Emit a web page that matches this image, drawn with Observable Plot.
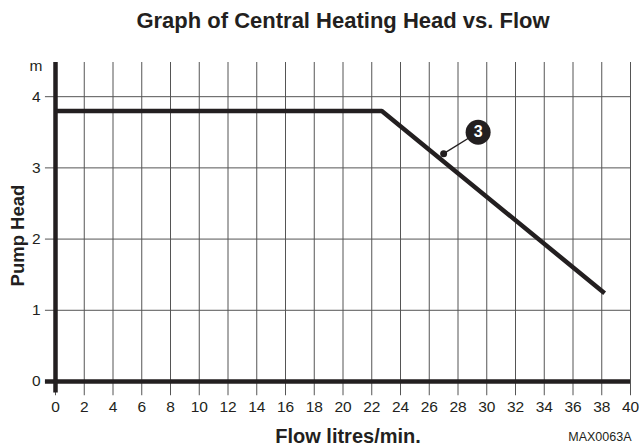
<!DOCTYPE html>
<html><head><meta charset="utf-8">
<script src="https://cdn.jsdelivr.net/npm/d3@7"></script>
<script src="https://cdn.jsdelivr.net/npm/@observablehq/plot@0.6"></script>
<style>body{margin:0;background:#fff;} svg{display:block;}</style>
</head><body><div id="chart"></div>
<script>
const xTicks = [0,2,4,6,8,10,12,14,16,18,20,22,24,26,28,30,32,34,36,38,40];
const yTicks = [0,1,2,3,4];
const flow = [0, 22.7, 38.2];
const head = [3.8, 3.8, 1.24];
const curve = flow.map((f,i)=>({flow:f, head:head[i]}));
const calloutPoint = [{flow:27.0, head:3.2}];
const calloutLabel = [{flow:29.4, head:3.5, label:"3"}];
const title = "Graph of Central Heating Head vs. Flow";
const xLabel = "Flow litres/min.";
const yLabel = "Pump Head";
const yUnit = "m";
const code = "MAX0063A";

const ink = "#231f20";
const font = "Arial, 'Liberation Sans', Helvetica, sans-serif";
const chart = Plot.plot({
  width: 639, height: 445,
  marginLeft: 55, marginRight: 9, marginTop: 62, marginBottom: 64,
  style: {fontFamily: font, fontSize: "15.5px", background: "#fff", color: ink},
  x: {domain: [0, 40]},
  y: {domain: [0, 4.48]},
  marks: [
    Plot.ruleX(xTicks, {x: d=>d, y1: -0.2, y2: 4.48, stroke: "#555", strokeWidth: 1}),
    Plot.ruleY(yTicks, {y: d=>d, x1: -0.7, x2: 40, stroke: "#555", strokeWidth: 1}),
    Plot.axisX({ticks: xTicks, tickSize: 0, tickPadding: 19, fontSize: 15.5, label: null, fill: ink, tickFormat: d=>String(d)}),
    Plot.axisY({ticks: yTicks, tickSize: 0, tickPadding: 15, fontSize: 15.5, label: null, fill: ink, tickFormat: d=>String(d)}),
    Plot.ruleY([0], {x1: -0.7, x2: 40, stroke: ink, strokeWidth: 4.5}),
    Plot.ruleX([0], {y1: -0.16, y2: 4.48, stroke: ink, strokeWidth: 4.5}),
    Plot.line(curve, {x: "flow", y: "head", stroke: ink, strokeWidth: 4.5, strokeLinejoin: "miter", strokeLinecap: "butt"}),
    Plot.link([{x1: calloutPoint[0].flow, y1: calloutPoint[0].head, x2: calloutLabel[0].flow, y2: calloutLabel[0].head}], {x1:"x1", y1:"y1", x2:"x2", y2:"y2", stroke: ink, strokeWidth: 1.3}),
    Plot.dot(calloutPoint, {x: "flow", y: "head", r: 3.5, fill: ink, stroke: "none"}),
    Plot.dot(calloutLabel, {x: "flow", y: "head", r: 12.5, fill: ink, stroke: "none"}),
    Plot.text(calloutLabel, {x: "flow", y: "head", text: "label", fill: "#fff", fontSize: 16, fontWeight: "bold"}),
    Plot.text([yUnit], {frameAnchor: "top-left", dx: -19.5, dy: -3, fontSize: 15.5, textAnchor: "middle", fill: ink}),
    Plot.text([title], {frameAnchor: "top", dy: -50, fontSize: 22, fontWeight: "bold", fill: ink, letterSpacing: 1}),
    Plot.text([xLabel], {frameAnchor: "bottom", dx: 5, dy: 61, fontSize: 20, fontWeight: "bold", fill: ink, letterSpacing: 0.3}),
    Plot.text([code], {frameAnchor: "bottom-right", dy: 59, dx: 1, textAnchor: "end", fontSize: 12.5, fill: ink}),
    Plot.text([{y: 2.05, t: yLabel}], {y: "y", text: "t", frameAnchor: "left", dx: -37.5, textAnchor: "middle", rotate: -90, fontSize: 18.5, fontWeight: "bold", fill: ink})
  ]
});
document.getElementById("chart").appendChild(chart);
</script></body></html>
